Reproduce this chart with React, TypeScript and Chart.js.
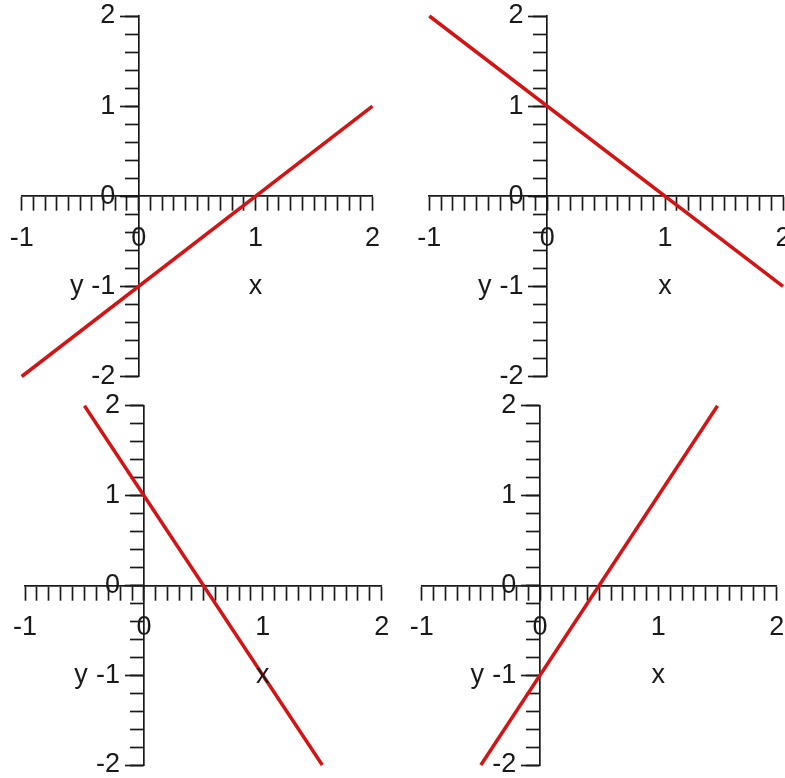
import React, { useEffect, useRef } from 'react';
import { Chart, registerables } from 'chart.js';

Chart.register(...registerables);

// ---- data ----
const xRange = [-1, 2];
const yRange = [-2, 2];
const xMinorStep = 0.1;
const yMinorStep = 0.2;
const majorStep = 1;

// four straight lines (end points)
const lineAX = [-1, 2];
const lineAY = [-2, 1];
const lineBX = [-1, 2];
const lineBY = [2, -1];
const lineCX = [-0.5, 1.5];
const lineCY = [2, -2];
const lineDX = [-0.5, 1.5];
const lineDY = [-2, 2];

const xTitle = 'x';
const yTitle = 'y';
const xTitleAt = [1, -1];
const yTitleAt = [-0.53, -1];
const yLabelAtX = -0.2;

// ---- style ----
const LINE_COLOR = '#d41414';
const AXIS_COLOR = '#1a1a1a';
const TEXT_COLOR = '#1a1a1a';
const AXIS_WIDTH = 1.7;
const FONT = { family: '"Liberation Sans", Arial, sans-serif', size: 27, weight: 'normal' as const, lineHeight: 1.2 };

// panel cells and chart areas in page pixels: [left, top, right, bottom]
const panels = [
  { cell: [0, 0, 392, 389], area: [21.7, 16, 372.5, 376.5], xs: lineAX, ys: lineAY },
  { cell: [392, 0, 785, 389], area: [429.3, 16, 783, 376.5], xs: lineBX, ys: lineBY },
  { cell: [0, 389, 392, 778], area: [25, 405.7, 381.7, 765], xs: lineCX, ys: lineCY },
  { cell: [392, 389, 785, 778], area: [421.7, 405.7, 776.7, 765], xs: lineDX, ys: lineDY },
];

const zeroFit = (scale: any) => {
  if (scale.isHorizontal()) scale.height = 0;
  else scale.width = 0;
  scale.paddingLeft = 0;
  scale.paddingRight = 0;
  scale.paddingTop = 0;
  scale.paddingBottom = 0;
};
const isInt = (v: number) => Math.abs(v - Math.round(v)) < 1e-6;

const axisTitlePlugin = {
  id: 'axisTitles',
  afterDatasetsDraw(chart: any) {
    const { ctx, scales } = chart;
    ctx.save();
    ctx.font = `${FONT.weight} ${FONT.size}px ${FONT.family}`;
    ctx.fillStyle = TEXT_COLOR;
    ctx.textAlign = 'center';
    ctx.textBaseline = 'middle';
    ctx.fillText(xTitle, scales.x.getPixelForValue(xTitleAt[0]), scales.y.getPixelForValue(xTitleAt[1]));
    ctx.fillText(yTitle, scales.x.getPixelForValue(yTitleAt[0]), scales.y.getPixelForValue(yTitleAt[1]));
    ctx.restore();
  },
};

function Panel({ cell, area, xs, ys }: { cell: number[]; area: number[]; xs: number[]; ys: number[] }) {
  const ref = useRef<HTMLCanvasElement>(null);
  useEffect(() => {
    const [cl, ct, cr, cb] = cell;
    const [al, at, ar, ab] = area;
    const chart = new Chart(ref.current as HTMLCanvasElement, {
      type: 'scatter',
      data: {
        datasets: [
          {
            data: xs.map((x, i) => ({ x, y: ys[i] })),
            showLine: true,
            borderColor: LINE_COLOR,
            backgroundColor: LINE_COLOR,
            borderWidth: 3.5,
            pointRadius: 0,
            tension: 0,
            clip: false as any,
          },
        ],
      },
      options: {
        responsive: false,
        animation: false,
        events: [],
        layout: { padding: { left: al - cl, top: at - ct, right: cr - ar, bottom: cb - ab } },
        plugins: { legend: { display: false }, tooltip: { enabled: false }, title: { display: false } },
        scales: {
          x: {
            type: 'linear',
            min: xRange[0],
            max: xRange[1],
            position: { y: 0 } as any,
            afterFit: zeroFit,
            border: { display: true, color: AXIS_COLOR, width: AXIS_WIDTH },
            grid: { drawOnChartArea: false, drawTicks: true, tickLength: 14, tickWidth: AXIS_WIDTH, tickColor: AXIS_COLOR },
            ticks: {
              stepSize: xMinorStep,
              autoSkip: false,
              maxRotation: 0,
              minRotation: 0,
              maxTicksLimit: 1000,
              padding: 12,
              color: TEXT_COLOR,
              font: FONT,
              callback: (v: any) => (isInt(Number(v)) ? String(Math.round(Number(v))) : ''),
            },
          },
          y: {
            type: 'linear',
            axis: 'y',
            min: yRange[0],
            max: yRange[1],
            position: { x: 0 } as any,
            afterFit: zeroFit,
            border: { display: true, color: AXIS_COLOR, width: AXIS_WIDTH },
            grid: { drawOnChartArea: false, drawTicks: true, tickLength: 13, tickWidth: AXIS_WIDTH, tickColor: AXIS_COLOR },
            ticks: { stepSize: yMinorStep, autoSkip: false, maxTicksLimit: 1000, font: FONT, callback: () => '' },
          },
          yMajor: {
            type: 'linear',
            axis: 'y',
            min: yRange[0],
            max: yRange[1],
            position: { x: 0 } as any,
            afterFit: zeroFit,
            border: { display: false },
            grid: { drawOnChartArea: false, drawTicks: true, tickLength: 19, tickWidth: AXIS_WIDTH, tickColor: AXIS_COLOR },
            ticks: { stepSize: majorStep, autoSkip: false, font: FONT, callback: () => '' },
          },
          yLabel: {
            type: 'linear',
            axis: 'y',
            min: yRange[0],
            max: yRange[1],
            position: { x: yLabelAtX } as any,
            afterFit: zeroFit,
            border: { display: false },
            grid: { display: false },
            ticks: {
              stepSize: majorStep,
              autoSkip: false,
              color: TEXT_COLOR,
              font: FONT,
              callback: (v: any) => String(Math.round(Number(v))),
            },
          },
        } as any,
      },
      plugins: [axisTitlePlugin],
    });
    return () => chart.destroy();
  }, []);
  const [cl, ct, cr, cb] = cell;
  return (
    <canvas
      ref={ref}
      width={cr - cl}
      height={cb - ct}
      style={{ position: 'absolute', left: cl, top: ct, width: cr - cl, height: cb - ct }}
    />
  );
}

export default function App() {
  return (
    <div style={{ position: 'absolute', left: 0, top: 0, width: 785, height: 778, background: '#fff' }}>
      {panels.map((p, i) => (
        <Panel key={i} cell={p.cell} area={p.area} xs={p.xs} ys={p.ys} />
      ))}
    </div>
  );
}
